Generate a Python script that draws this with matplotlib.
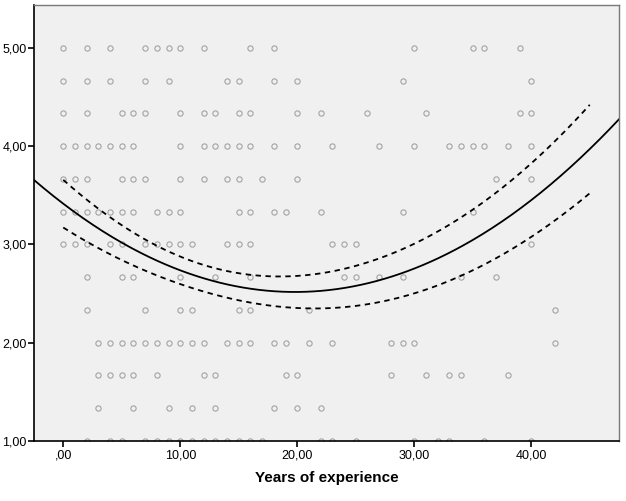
import numpy as np
import matplotlib
matplotlib.use("Agg")
import matplotlib.pyplot as plt

plt.rcParams['font.family'] = ['Liberation Sans', 'DejaVu Sans']

# score levels (in thirds) and the years of experience seen at each level
y_levels = [5.0, 14/3, 13/3, 4.0, 11/3, 10/3, 3.0, 8/3, 7/3, 2.0, 5/3, 4/3, 1.0]
years_by_level = [
    [0, 2, 4, 7, 8, 9, 10, 12, 16, 18, 30, 35, 36, 39],
    [0, 2, 4, 7, 9, 14, 15, 18, 20, 29, 40],
    [0, 2, 5, 6, 7, 10, 12, 13, 15, 16, 20, 22, 26, 31, 39, 40],
    [0, 1, 2, 3, 4, 5, 6, 10, 12, 13, 14, 15, 16, 18, 20, 23, 27, 30, 33, 34, 35, 36, 38, 40],
    [0, 1, 2, 5, 6, 7, 10, 12, 14, 15, 17, 20, 37, 40],
    [0, 1, 2, 3, 4, 5, 6, 8, 9, 10, 15, 16, 18, 19, 22, 29, 35],
    [0, 1, 2, 4, 5, 7, 8, 9, 10, 11, 14, 15, 16, 23, 24, 25, 40],
    [2, 5, 6, 10, 13, 16, 24, 25, 27, 29, 34, 37],
    [2, 7, 10, 11, 15, 16, 21, 42],
    [3, 4, 5, 6, 7, 8, 9, 10, 11, 12, 14, 15, 16, 18, 19, 21, 23, 28, 29, 30, 42],
    [3, 4, 5, 6, 8, 12, 13, 19, 20, 28, 31, 33, 34, 38],
    [3, 6, 9, 11, 13, 18, 20, 22],
    [2, 4, 5, 7, 8, 9, 10, 11, 12, 13, 14, 15, 16, 17, 22, 23, 25, 30, 32, 33, 36, 40],
]

# quadratic fit (b0, b1, b2) and variance polynomial of the mean (in u = x/10)
fit_coef = [3.414, -0.0907, 0.00229]
ci_var_coef = [0.0588, -0.074283, 0.043199, -0.0091904, 0.0010746]
ci_range = [0, 45]

xs = []
ys = []
for lev, yrs in zip(y_levels, years_by_level):
    xs += yrs
    ys += [lev] * len(yrs)

fig = plt.figure(figsize=(6.26, 5.01), dpi=100)
ax = fig.add_axes([34/626, 60/501, 585/626, 436/501])
ax.set_facecolor('#f0f0f0')

ax.plot(xs, ys, 'o', mfc='none', mec='#a3a3a3', ms=3.8, mew=0.8)

xfit = np.linspace(-2.5, 47.5, 300)
yfit = fit_coef[0] + fit_coef[1]*xfit + fit_coef[2]*xfit**2
ax.plot(xfit, yfit, color='black', lw=1.3)

xc = np.linspace(ci_range[0], ci_range[1], 300)
yc = fit_coef[0] + fit_coef[1]*xc + fit_coef[2]*xc**2
u = xc / 10
hw = np.sqrt(sum(c * u**i for i, c in enumerate(ci_var_coef)))
ax.plot(xc, yc + hw, color='black', lw=1.3, dashes=(3, 2.5))
ax.plot(xc, yc - hw, color='black', lw=1.3, dashes=(3, 2.5))

ax.set_xlim(-2.5, 47.5)
ax.set_ylim(1.0, 5.435)
ax.set_xticks([0, 10, 20, 30, 40])
ax.set_xticklabels([',00', '10,00', '20,00', '30,00', '40,00'])
ax.set_yticks([1, 2, 3, 4, 5])
ax.set_yticklabels(['1,00', '2,00', '3,00', '4,00', '5,00'])
ax.tick_params(direction='out', length=4.3, width=1.2, labelsize=9, colors='black')
ax.tick_params(axis='y', pad=1)
ax.tick_params(axis='x', pad=2)

for s in ['top', 'right']:
    ax.spines[s].set_color('#7a7a7a')
    ax.spines[s].set_linewidth(1.0)
for s in ['left', 'bottom']:
    ax.spines[s].set_color('black')
    ax.spines[s].set_linewidth(1.2)

ax.set_xlabel('Years of experience', fontsize=11, fontweight='bold', labelpad=7)

fig.savefig('out.png', dpi=100)
